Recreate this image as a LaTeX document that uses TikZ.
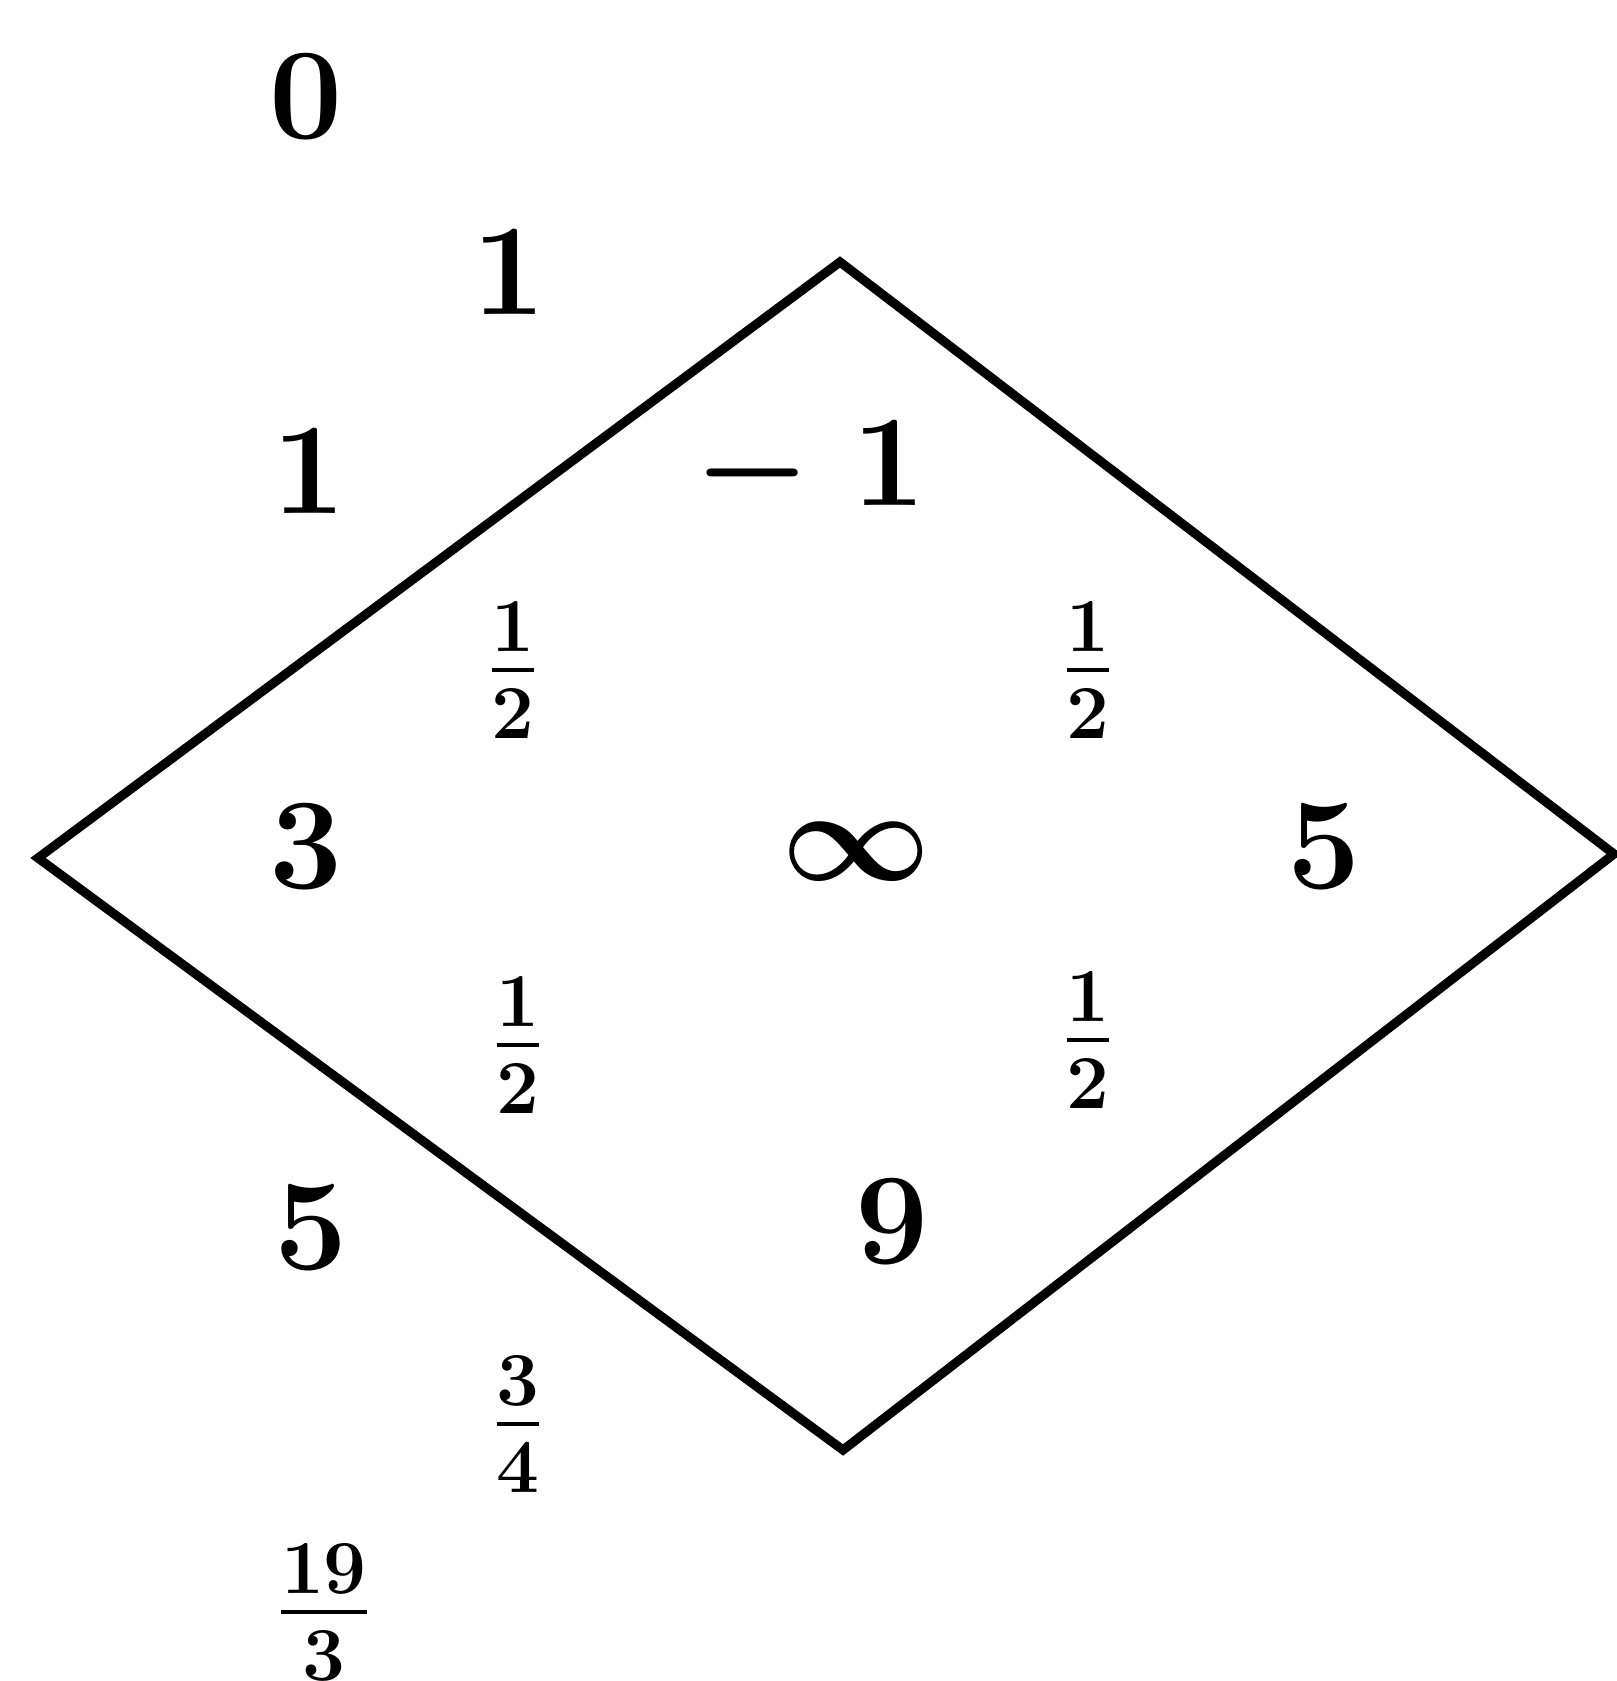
\RequirePackage{fix-cm}
\documentclass[tikz,border=0pt]{standalone}
\usepackage{amsmath,amssymb}
\usepackage{tikz}
\usetikzlibrary{positioning}

\begin{document}
\begin{tikzpicture}[
  num/.style={inner sep=0pt, font=\fontsize{37}{42}\selectfont\boldmath},
  frc/.style={inner sep=0pt, font=\fontsize{31}{36}\selectfont\boldmath},
  edge/.style={line width=2.6pt, line join=miter}
]
\useasboundingbox (0,0) rectangle (16.16,-16.81);

% Diamond corners
\coordinate (top) at (8.40,-2.62);
\coordinate (rgt) at (16.14,-8.54);
\coordinate (bot) at (8.43,-14.50);
\coordinate (lft) at (0.38,-8.58);

\draw[edge] (top) -- (rgt) -- (bot) -- (lft) -- cycle;

% Left column
\node[num] (n0) at (3.06,-0.97) {$0$};
\node[num] (n1a) at (3.09,-4.72) {$1$};
\node[num] (n3) at (3.06,-8.47) {$3$};
\node[num] (n5a) at (3.11,-12.28) {$5$};
\node[frc] (n19) at (3.24,-16.12) {$\frac{19}{3}$};

% Second column
\node[num] (n1b) at (5.09,-2.73) {$1$};
\node[frc] (h1) at (5.13,-6.70) {$\frac{1}{2}$};
\node[frc] (h3) at (5.18,-10.45) {$\frac{1}{2}$};
\node[frc] (q) at (5.18,-14.24) {$\frac{3}{4}$};

% Middle
\node[num] (m1) at (8.10,-4.72) {$-\;1$};
\node[num] (inf) at (8.56,-8.52) {$\infty$};
\node[num] (n9) at (8.92,-12.22) {$9$};

% Right
\node[frc] (h2) at (10.88,-6.70) {$\frac{1}{2}$};
\node[frc] (h4) at (10.88,-10.40) {$\frac{1}{2}$};
\node[num] (n5b) at (13.24,-8.47) {$5$};
\end{tikzpicture}
\end{document}
